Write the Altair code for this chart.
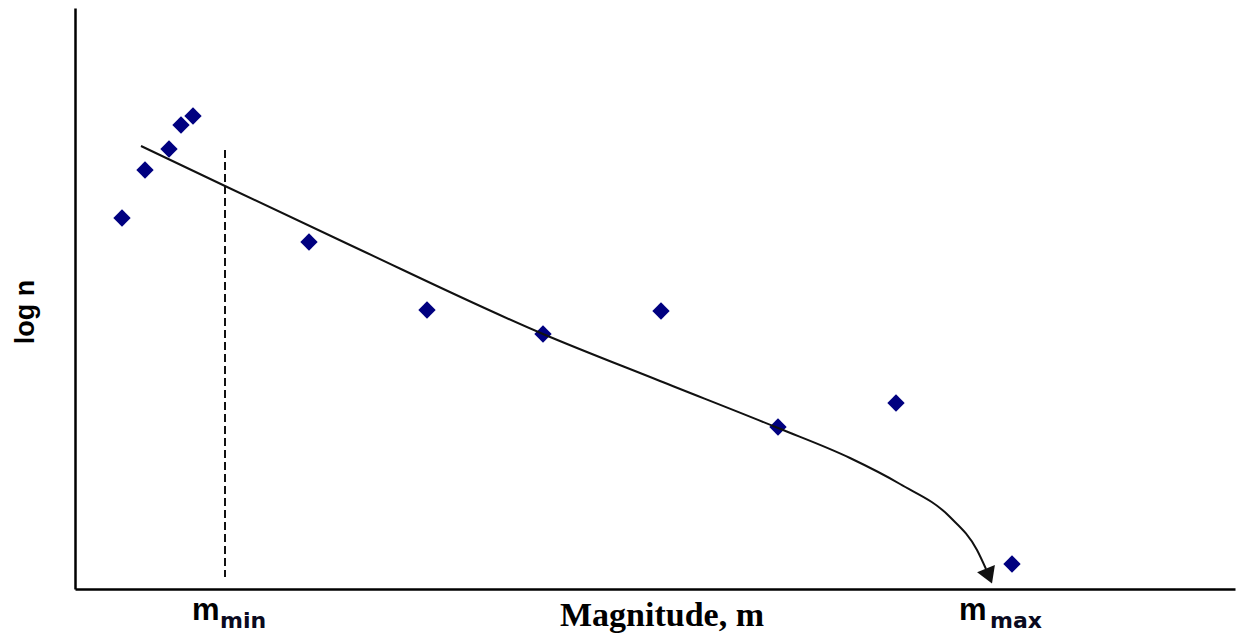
import altair as alt
import pandas as pd

# Observed points (magnitude, log n) in arbitrary units
pt_m = [47, 70, 94, 106, 118, 234, 352, 468, 586, 703, 821, 937]
pt_logn = [371, 419, 440, 464, 473, 347, 279, 255, 278, 162, 186, 25]

# Fitted curve (trend bending down toward m_max)
fit_m = [66, 150, 275, 468, 585, 703, 775, 825, 875, 902, 911]
fit_logn = [443, 403, 344, 255, 208, 161, 131, 105, 72, 39, 20]

# Arrow head at the end of the curve
arrow_m = [914]
arrow_logn = [13]

# m_min threshold line
mmin_m = [150, 150]
mmin_logn = [439, 12]

# Text labels
big_m = "m"
sub_min = "min"
sub_max = "max"
x_title = "Magnitude, m"
y_title = "log n"

xs = alt.Scale(domain=[0, 1160], nice=False, zero=False)
ys = alt.Scale(domain=[0, 581], nice=False, zero=False)

pts_df = pd.DataFrame({"m": pt_m, "logn": pt_logn})
fit_df = pd.DataFrame({"m": fit_m, "logn": fit_logn})
arr_df = pd.DataFrame({"m": arrow_m, "logn": arrow_logn})
mmin_df = pd.DataFrame({"m": mmin_m, "logn": mmin_logn})

X = alt.X("m:Q", scale=xs, title=None)
Y = alt.Y("logn:Q", scale=ys, title=None)

points = alt.Chart(pts_df).mark_point(
    shape="diamond", filled=True, size=300, color="#000080", opacity=1
).encode(x=X, y=Y)

fit = alt.Chart(fit_df).mark_line(
    color="#111111", strokeWidth=2, interpolate="monotone"
).encode(x=X, y=Y)

arrow = alt.Chart(arr_df).mark_point(
    shape="M-1.2,-1L1.2,-1L0,1Z", filled=True, size=256, angle=338,
    color="#111111", opacity=1
).encode(x=X, y=Y)

mmin_line = alt.Chart(mmin_df).mark_line(
    color="#111111", strokeWidth=2, strokeDash=[8, 4]
).encode(x=X, y=Y)

one = pd.DataFrame({"k": [0]})


def label(txt, px, py, font, size, color="black", align="left", angle=0,
          baseline="alphabetic"):
    return alt.Chart(one).mark_text(
        text=txt, font=font, fontWeight="bold", fontSize=size, align=align,
        baseline=baseline, color=color, angle=angle
    ).encode(x=alt.value(px), y=alt.value(py))


t1 = label(big_m, 117, 612, "Liberation Sans", 31)
t2 = label(sub_min, 145, 620, "DejaVu Sans", 22, color="#0a0a20")
t3 = label(big_m, 884, 612, "Liberation Sans", 31)
t4 = label(sub_max, 915, 620, "DejaVu Sans", 22, color="#0a0a20")
t5 = label(x_title, 587, 618, "Liberation Serif", 34, align="center")
t6 = label(y_title, -49, 304, "Liberation Sans", 27, align="center",
           angle=270, baseline="middle")

chart = alt.layer(points, fit, arrow, mmin_line, t1, t2, t3, t4, t5, t6).properties(
    width=1160, height=581,
    autosize=alt.AutoSizeParams(type="none"),
    padding={"left": 67, "top": 0, "right": 1, "bottom": 48},
).configure_view(stroke=None).configure_axis(
    labels=False, ticks=False, grid=False, domainColor="black", domainWidth=2.5
)

chart.save("out.html", embed_options={"renderer": "svg", "actions": False})
